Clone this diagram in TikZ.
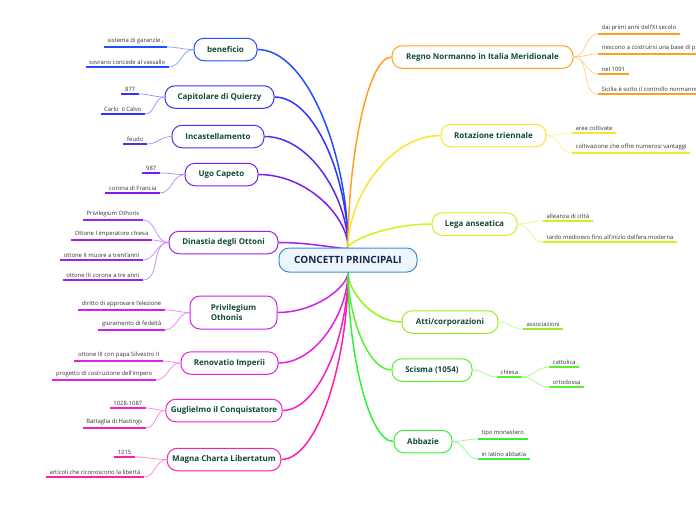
\documentclass[tikz,border=0pt]{standalone}
\usepackage{fontspec}
\setmainfont{Open Sans}
\usetikzlibrary{calc}
\pgfdeclarelayer{bg}
\pgfsetlayers{bg,main}
\definecolor{tcol}{HTML}{0F4A3C}
\definecolor{ctext}{HTML}{14264A}
\definecolor{ltext}{HTML}{333333}
\definecolor{cC}{HTML}{3A8FD8}
\definecolor{cCf}{HTML}{EEF6FD}
\definecolor{cA}{HTML}{1F4FFF}
\definecolor{cB}{HTML}{3232FF}
\definecolor{cD}{HTML}{5A28F0}
\definecolor{cE}{HTML}{7A1EF0}
\definecolor{cF}{HTML}{A020F0}
\definecolor{cG}{HTML}{D21EF0}
\definecolor{cH}{HTML}{E61EE6}
\definecolor{cI}{HTML}{F51EC8}
\definecolor{cJ}{HTML}{FF1EAA}
\definecolor{cK}{HTML}{FFA01E}
\definecolor{cL}{HTML}{FAE628}
\definecolor{cM}{HTML}{D2F01E}
\definecolor{cN}{HTML}{96F01E}
\definecolor{cO}{HTML}{5AF032}
\definecolor{cP}{HTML}{32F03C}
\tikzset{
  topic/.style={draw=#1, line width=1pt, rounded corners=10pt, fill=white,
    text=tcol, font=\fontsize{8}{9.6}\selectfont\bfseries,
    minimum height=22.5pt, inner xsep=5pt},
  leaf/.style={font=\fontsize{5.9}{7}\selectfont, text=ltext, inner xsep=3.5pt, inner ysep=2.6pt},
  ul/.style={draw=#1, line width=1.5pt},
  twig/.style={draw=#1!55, line width=0.7pt},
  branch/.style={draw=#1, line width=1.5pt,
    to path={.. controls ($(\tikztostart)!0.55!(\tikztotarget |- \tikztostart)$)
      and ($(\tikztotarget)!0.5!(\tikztotarget |- \tikztostart)$) .. (\tikztotarget)}}
}
\newcommand\leafL[5]{%
  \node[leaf,anchor=south east] (#1) at (#4) {#5};
  \draw[ul=#2] (#1.south west) -- (#1.south east);
  \draw[twig=#2] (#3.west) to[out=180,in=0] (#1.south east);}
\newcommand\leafR[5]{%
  \node[leaf,anchor=south west] (#1) at (#4) {#5};
  \draw[ul=#2] (#1.south west) -- (#1.south east);
  \draw[twig=#2] (#3.east) to[out=0,in=180] (#1.south west);}
\begin{document}
\begin{tikzpicture}[x=1pt,y=-1pt]
\useasboundingbox (0,0) rectangle (696,520);
\clip (0,0) rectangle (696,520);

% central
\node[draw=cC, fill=cCf, line width=1pt, rounded corners=10pt, minimum width=138pt,
  minimum height=24pt, font=\fontsize{10}{12}\selectfont\bfseries, text=ctext] (C) at (348,260) {CONCETTI PRINCIPALI};

% left topics
\node[topic=cA, minimum width=63pt] (ben) at (225.5,49.5) {beneficio};
\node[topic=cB, minimum width=109pt] (cap) at (219.5,97) {Capitolare di Quierzy};
\node[topic=cD, minimum width=92pt] (inc) at (218,136.5) {Incastellamento};
\node[topic=cE, minimum width=73pt] (ugo) at (221.5,174.5) {Ugo Capeto};
\node[topic=cF, minimum width=109pt] (din) at (223.5,242.5) {Dinastia degli Ottoni};
\node[topic=cG, minimum width=87pt, minimum height=33pt, align=left] (pri) at (233.5,312.5) {Privilegium\\Othonis};
\node[topic=cH, minimum width=97pt] (ren) at (229.5,363) {Renovatio Imperii};
\node[topic=cI, minimum width=106pt] (gug) at (224,410.5) {Guglielmo il Conquistatore};
\node[topic=cJ, minimum width=108pt] (mag) at (224,459.5) {Magna Charta Libertatum};

% right topics
\node[topic=cK, minimum width=181pt] (reg) at (482.5,57) {Regno Normanno in Italia Meridionale};
\node[topic=cL, minimum width=105pt] (rot) at (493.5,135.5) {Rotazione triennale};
\node[topic=cM, minimum width=85pt] (leg) at (474.5,224) {Lega anseatica};
\node[topic=cN, minimum width=96pt] (att) at (450,322) {Atti/corporazioni};
\node[topic=cO, minimum width=80pt] (sci) at (432,370) {Scisma (1054)};
\node[topic=cP, minimum width=58pt] (abb) at (423,441.5) {Abbazie};

\begin{pgfonlayer}{bg}
\foreach \n/\c in {ben/cA,cap/cB,inc/cD,ugo/cE,din/cF,pri/cG,ren/cH,gug/cI,mag/cJ}
  \draw[branch=\c] (\n.east) to (C);
\foreach \n/\c in {reg/cK,rot/cL,leg/cM,att/cN,sci/cO,abb/cP}
  \draw[branch=\c] (\n.west) to (C);
\end{pgfonlayer}

% left leaves
\leafL{ben1}{cA}{ben}{167,47}{sistema di garanzie ,}
\leafL{ben2}{cA}{ben}{169,67}{sovrano concede al vassallo}
\leafL{cap1}{cB}{cap}{139,94}{877}
\leafL{cap2}{cB}{cap}{145,114}{Carlo \ il Calvo}
\leafL{inc1}{cD}{inc}{147,144}{feudo}
\leafL{ugo1}{cE}{ugo}{160,173}{987}
\leafL{ugo2}{cE}{ugo}{160,193}{corona di Francia}
\leafL{din1}{cF}{din}{143,220}{Privilegium Othoris}
\leafL{din2}{cF}{din}{152,240}{Ottone I imperatore chiesa}
\leafL{din3}{cF}{din}{143,260}{ottone II muore a trent'anni}
\leafL{din4}{cF}{din}{143,280}{ottone III corona a tre anni}
\leafL{pri1}{cG}{pri}{165,310}{diritto di approvare l'elezione}
\leafL{pri2}{cG}{pri}{165,330}{giuramento di fedeltà}
\leafL{ren1}{cH}{ren}{163,361}{ottone III con papa Silvestro II}
\leafL{ren2}{cH}{ren}{156,380}{progetto di costruzione dell'impero}
\leafL{gug1}{cI}{gug}{146,408}{1028-1087}
\leafL{gug2}{cI}{gug}{146,428}{Battaglia di Hastings}
\leafL{mag1}{cJ}{mag}{135,457}{1215}
\leafL{mag2}{cJ}{mag}{144,477}{articoli che riconoscono la libertà}

% right leaves
\leafR{reg1}{cK}{reg}{598,34}{dai primi anni dell'XI secolo}
\leafR{reg2}{cK}{reg}{598,54}{riescono a costruirsi una base di p}
\draw[ul=cK] (reg2.south east) -- (700,54);
\leafR{reg3}{cK}{reg}{598,74}{nel 1091}
\leafR{reg4}{cK}{reg}{598,94}{Sicilia è sotto il controllo normanno}
\draw[ul=cK] (reg4.south east) -- (700,94);
\leafR{rot1}{cL}{rot}{572,133}{aree coltivate}
\leafR{rot2}{cL}{rot}{572,153}{coltivazione che offre numerosi vantaggi}
\leafR{leg1}{cM}{leg}{543,221}{alleanza di città}
\leafR{leg2}{cM}{leg}{543,242}{tardo medioevo fino all'inizio dell'era moderna}
\leafR{att1}{cN}{att}{523,329}{associazioni}
\leafR{sci1}{cO}{sci}{497,377}{chiesa}
\node[leaf,anchor=south west] (sci2) at (549,367) {cattolica};
\draw[ul=cO] (sci2.south west) -- (sci2.south east);
\draw[twig=cO] (sci1.south east) to[out=0,in=180] (sci2.south west);
\node[leaf,anchor=south west] (sci3) at (549,387) {ortodossa};
\draw[ul=cO] (sci3.south west) -- (sci3.south east);
\draw[twig=cO] (sci1.south east) to[out=0,in=180] (sci3.south west);
\leafR{abb1}{cP}{abb}{478,439}{tipo monastero}
\leafR{abb2}{cP}{abb}{478,459}{in latino abbatia}
\end{tikzpicture}
\end{document}
